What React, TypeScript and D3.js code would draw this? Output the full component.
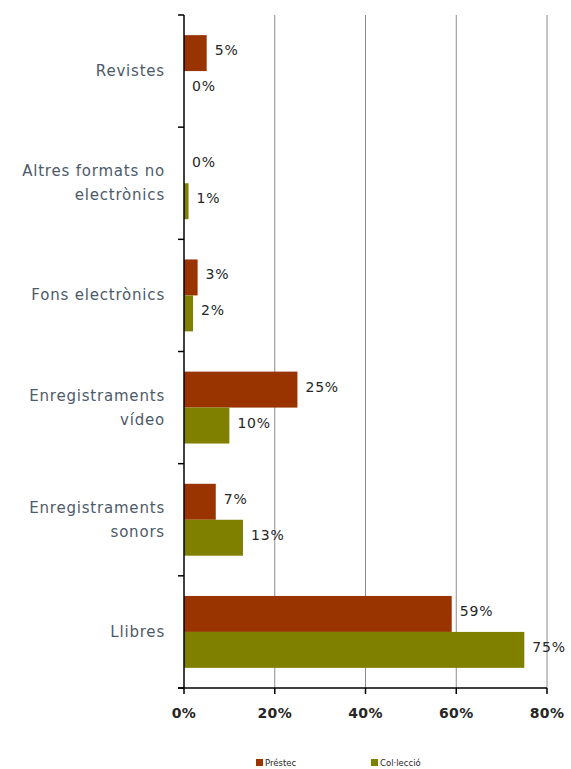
import React from "react";
import * as d3 from "d3";

const categories = [
  ["Revistes"],
  ["Altres formats no", "electrònics"],
  ["Fons electrònics"],
  ["Enregistraments", "vídeo"],
  ["Enregistraments", "sonors"],
  ["Llibres"],
];
const prestec = [5, 0, 3, 25, 7, 59];
const colleccio = [0, 1, 2, 10, 13, 75];
const ticks = [0, 20, 40, 60, 80];
const seriesNames = ["Préstec", "Col·lecció"];
const colors = ["#993300", "#808000"];

export default function App() {
  const W = 571, H = 769;
  const left = 184, right = 547, top = 15, bottom = 688;
  const x = d3.scaleLinear().domain([0, 80]).range([left, right]);
  const y = d3.scaleBand<number>().domain(d3.range(categories.length)).range([top, bottom]);
  const inner = d3.scaleBand<number>().domain([0, 1]).range([0, y.bandwidth()]).paddingOuter(0.56).paddingInner(0);
  const font = "'DejaVu Sans', sans-serif";
  const series = [prestec, colleccio];
  return (
    <svg width={W} height={H} style={{ position: "absolute", left: 0, top: 0 }} fontFamily={font}>
      <rect width={W} height={H} fill="#fff" />
      {ticks.slice(1).map((t) => (
        <line key={t} x1={x(t)} x2={x(t)} y1={top} y2={bottom} stroke="#8c8c8c" strokeWidth={1} />
      ))}
      {series.map((vals, s) =>
        vals.map((v, i) => {
          const yy = (y(i) as number) + (inner(s) as number);
          return (
            <g key={`${s}-${i}`}>
              <rect x={x(0)} y={yy} width={x(v) - x(0)} height={inner.bandwidth()} fill={colors[s]} />
              <text x={x(v) + 8} y={yy + inner.bandwidth() / 2 + 2} fontSize={14} letterSpacing={0.8} fill="#262626">
                {v}%
              </text>
            </g>
          );
        })
      )}
      <line x1={left} x2={left} y1={top} y2={bottom} stroke="#000" strokeWidth={1.5} />
      {d3.range(categories.length + 1).map((i) => {
        const yy = top + i * y.step();
        return <line key={i} x1={left - 6} x2={left} y1={yy} y2={yy} stroke="#000" strokeWidth={1.5} />;
      })}
      <line x1={left - 6} x2={right} y1={bottom} y2={bottom} stroke="#000" strokeWidth={1.5} />
      {ticks.map((t) => (
        <g key={t}>
          <line x1={x(t)} x2={x(t)} y1={bottom} y2={bottom + 6} stroke="#000" strokeWidth={1.5} />
          <text x={x(t)} y={bottom + 30} textAnchor="middle" fontSize={14} letterSpacing={0.4} fontWeight="bold" fill="#262626">
            {t}%
          </text>
        </g>
      ))}
      {categories.map((lines, i) => {
        const cy = (y(i) as number) + y.bandwidth() / 2;
        const n = lines.length;
        return (
          <text key={i} x={165} textAnchor="end" fontSize={15} letterSpacing={0.8} fill="#4d5a6a">
            {lines.map((l, j) => (
              <tspan key={j} x={165} y={cy + 5 + (j - (n - 1) / 2) * 24}>
                {l}
              </tspan>
            ))}
          </text>
        );
      })}
      {seriesNames.map((n, s) => {
        const lx = s === 0 ? 256 : 371;
        return (
          <g key={n}>
            <rect x={lx} y={759} width={7} height={7} fill={colors[s]} />
            <text x={lx + 9} y={766} fontSize={8.5} fill="#262626">
              {n}
            </text>
          </g>
        );
      })}
    </svg>
  );
}
